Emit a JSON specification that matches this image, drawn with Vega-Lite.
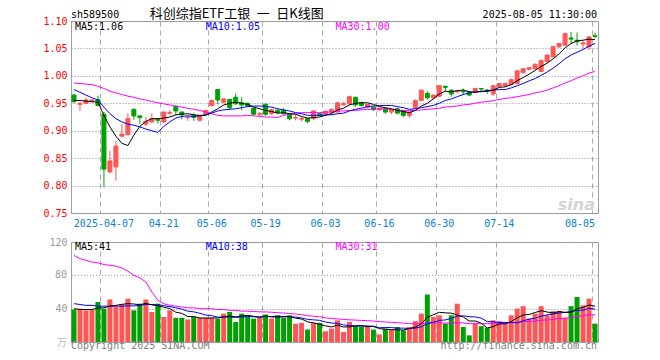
{
"$schema": "https://vega.github.io/schema/vega-lite/v6.json",
"background": "white",
"padding": {"left": 30, "top": 7, "right": 5, "bottom": 2},
"bounds": "flush",
"spacing": 29,
"config": {
  "view": {"stroke": "#a0a0a0", "strokeWidth": 1},
  "axis": {"labelFont": "DejaVu Sans Mono", "labelFontSize": 10, "ticks": false, "domain": false, "labelOverlap": false},
  "text": {"font": "DejaVu Sans Mono", "fontSize": 10}
},
"datasets": {"k": [
{"d":"2025-03-28","o":0.965,"h":0.967,"l":0.950,"c":0.953,"v":39,"m5":0.955,"m10":0.975,"m30":0.987,"v5":40,"v10":46,"v30":104},
{"d":"2025-03-31","o":0.948,"h":0.952,"l":0.936,"c":0.950,"v":40,"m5":0.955,"m10":0.970,"m30":0.986,"v5":39,"v10":45,"v30":100},
{"d":"2025-04-01","o":0.950,"h":0.960,"l":0.949,"c":0.956,"v":38,"m5":0.954,"m10":0.965,"m30":0.985,"v5":39,"v10":44,"v30":98},
{"d":"2025-04-02","o":0.954,"h":0.958,"l":0.951,"c":0.956,"v":39,"m5":0.953,"m10":0.960,"m30":0.984,"v5":39,"v10":44,"v30":96},
{"d":"2025-04-03","o":0.957,"h":0.964,"l":0.945,"c":0.946,"v":48,"m5":0.952,"m10":0.956,"m30":0.981,"v5":40.8,"v10":43,"v30":95},
{"d":"2025-04-07","o":0.930,"h":0.934,"l":0.797,"c":0.830,"v":40,"m5":0.928,"m10":0.943,"m30":0.977,"v5":41.0,"v10":43,"v30":93},
{"d":"2025-04-08","o":0.825,"h":0.863,"l":0.823,"c":0.845,"v":51,"m5":0.907,"m10":0.931,"m30":0.972,"v5":43.2,"v10":43,"v30":92},
{"d":"2025-04-09","o":0.834,"h":0.882,"l":0.809,"c":0.872,"v":42,"m5":0.890,"m10":0.922,"m30":0.969,"v5":44.0,"v10":43,"v30":91},
{"d":"2025-04-10","o":0.890,"h":0.912,"l":0.889,"c":0.894,"v":45,"m5":0.877,"m10":0.916,"m30":0.966,"v5":45.2,"v10":43,"v30":89},
{"d":"2025-04-11","o":0.893,"h":0.932,"l":0.891,"c":0.922,"v":52,"m5":0.873,"m10":0.912,"m30":0.963,"v5":46.0,"v10":43.4,"v30":85},
{"d":"2025-04-14","o":0.939,"h":0.940,"l":0.920,"c":0.927,"v":38,"m5":0.892,"m10":0.910,"m30":0.961,"v5":45.6,"v10":43.3,"v30":80},
{"d":"2025-04-15","o":0.927,"h":0.928,"l":0.913,"c":0.924,"v":46,"m5":0.908,"m10":0.907,"m30":0.958,"v5":44.6,"v10":43.9,"v30":77},
{"d":"2025-04-16","o":0.912,"h":0.925,"l":0.908,"c":0.917,"v":51,"m5":0.917,"m10":0.903,"m30":0.956,"v5":46.4,"v10":45.2,"v30":72},
{"d":"2025-04-17","o":0.916,"h":0.932,"l":0.914,"c":0.922,"v":36,"m5":0.922,"m10":0.900,"m30":0.953,"v5":44.6,"v10":44.9,"v30":60},
{"d":"2025-04-18","o":0.921,"h":0.922,"l":0.913,"c":0.919,"v":46,"m5":0.922,"m10":0.897,"m30":0.951,"v5":43.4,"v10":44.7,"v30":50},
{"d":"2025-04-21","o":0.916,"h":0.935,"l":0.914,"c":0.934,"v":30,"m5":0.923,"m10":0.908,"m30":0.949,"v5":41.8,"v10":43.7,"v30":46},
{"d":"2025-04-22","o":0.932,"h":0.938,"l":0.928,"c":0.933,"v":38,"m5":0.925,"m10":0.916,"m30":0.947,"v5":40.2,"v10":42.4,"v30":44},
{"d":"2025-04-23","o":0.944,"h":0.946,"l":0.929,"c":0.936,"v":29,"m5":0.929,"m10":0.923,"m30":0.945,"v5":35.8,"v10":41.1,"v30":43},
{"d":"2025-04-24","o":0.934,"h":0.935,"l":0.921,"c":0.929,"v":29,"m5":0.930,"m10":0.926,"m30":0.943,"v5":34.4,"v10":39.5,"v30":42},
{"d":"2025-04-25","o":0.924,"h":0.929,"l":0.918,"c":0.925,"v":27,"m5":0.931,"m10":0.927,"m30":0.941,"v5":30.6,"v10":37.0,"v30":41},
{"d":"2025-04-28","o":0.928,"h":0.932,"l":0.918,"c":0.924,"v":30,"m5":0.929,"m10":0.926,"m30":0.939,"v5":30.6,"v10":36.2,"v30":41},
{"d":"2025-04-29","o":0.919,"h":0.928,"l":0.917,"c":0.927,"v":29,"m5":0.928,"m10":0.927,"m30":0.937,"v5":28.8,"v10":34.5,"v30":40},
{"d":"2025-04-30","o":0.930,"h":0.938,"l":0.928,"c":0.937,"v":29,"m5":0.928,"m10":0.929,"m30":0.934,"v5":28.8,"v10":32.3,"v30":40},
{"d":"2025-05-06","o":0.946,"h":0.957,"l":0.944,"c":0.955,"v":29,"m5":0.934,"m10":0.932,"m30":0.931,"v5":28.8,"v10":31.6,"v30":40},
{"d":"2025-05-07","o":0.975,"h":0.976,"l":0.948,"c":0.956,"v":28,"m5":0.940,"m10":0.936,"m30":0.928,"v5":29.0,"v10":29.8,"v30":39},
{"d":"2025-05-08","o":0.952,"h":0.959,"l":0.950,"c":0.958,"v":34,"m5":0.947,"m10":0.938,"m30":0.927,"v5":29.8,"v10":30.2,"v30":39},
{"d":"2025-05-09","o":0.957,"h":0.958,"l":0.939,"c":0.942,"v":36,"m5":0.950,"m10":0.939,"m30":0.927,"v5":31.2,"v10":30.0,"v30":38},
{"d":"2025-05-12","o":0.961,"h":0.968,"l":0.947,"c":0.949,"v":24,"m5":0.952,"m10":0.940,"m30":0.927,"v5":30.2,"v10":29.5,"v30":38},
{"d":"2025-05-13","o":0.951,"h":0.961,"l":0.937,"c":0.947,"v":34,"m5":0.950,"m10":0.942,"m30":0.927,"v5":31.2,"v10":30.0,"v30":37},
{"d":"2025-05-14","o":0.950,"h":0.951,"l":0.943,"c":0.945,"v":32,"m5":0.948,"m10":0.944,"m30":0.928,"v5":32.0,"v10":30.5,"v30":37.0},
{"d":"2025-05-15","o":0.941,"h":0.942,"l":0.928,"c":0.930,"v":28,"m5":0.943,"m10":0.945,"m30":0.927,"v5":30.8,"v10":30.3,"v30":36.6},
{"d":"2025-05-16","o":0.930,"h":0.934,"l":0.926,"c":0.931,"v":29,"m5":0.940,"m10":0.945,"m30":0.926,"v5":29.4,"v10":30.3,"v30":36.2},
{"d":"2025-05-19","o":0.948,"h":0.950,"l":0.927,"c":0.930,"v":33,"m5":0.937,"m10":0.944,"m30":0.925,"v5":31.2,"v10":30.7,"v30":36.1},
{"d":"2025-05-20","o":0.931,"h":0.940,"l":0.929,"c":0.938,"v":28,"m5":0.935,"m10":0.943,"m30":0.925,"v5":30.0,"v10":30.6,"v30":35.7},
{"d":"2025-05-21","o":0.937,"h":0.940,"l":0.930,"c":0.933,"v":32,"m5":0.932,"m10":0.940,"m30":0.924,"v5":30.0,"v10":31.0,"v30":35.2},
{"d":"2025-05-22","o":0.937,"h":0.941,"l":0.929,"c":0.931,"v":29,"m5":0.933,"m10":0.938,"m30":0.928,"v5":30.2,"v10":30.5,"v30":34.8},
{"d":"2025-05-23","o":0.931,"h":0.932,"l":0.919,"c":0.922,"v":32,"m5":0.931,"m10":0.936,"m30":0.930,"v5":30.8,"v10":30.1,"v30":34.2},
{"d":"2025-05-26","o":0.923,"h":0.929,"l":0.919,"c":0.924,"v":22,"m5":0.930,"m10":0.933,"m30":0.932,"v5":28.6,"v10":29.9,"v30":33.5},
{"d":"2025-05-27","o":0.921,"h":0.926,"l":0.917,"c":0.922,"v":23,"m5":0.926,"m10":0.931,"m30":0.933,"v5":27.6,"v10":28.8,"v30":32.8},
{"d":"2025-05-28","o":0.922,"h":0.923,"l":0.914,"c":0.917,"v":15,"m5":0.923,"m10":0.928,"m30":0.933,"v5":24.2,"v10":27.1,"v30":31.5},
{"d":"2025-05-29","o":0.922,"h":0.937,"l":0.919,"c":0.936,"v":23,"m5":0.924,"m10":0.928,"m30":0.933,"v5":23.0,"v10":26.6,"v30":31.0},
{"d":"2025-05-30","o":0.931,"h":0.932,"l":0.926,"c":0.928,"v":23,"m5":0.925,"m10":0.928,"m30":0.933,"v5":21.2,"v10":26.0,"v30":30.3},
{"d":"2025-06-03","o":0.931,"h":0.937,"l":0.928,"c":0.935,"v":13,"m5":0.928,"m10":0.929,"m30":0.934,"v5":19.4,"v10":24.0,"v30":29.0},
{"d":"2025-06-04","o":0.933,"h":0.940,"l":0.931,"c":0.939,"v":16,"m5":0.931,"m10":0.929,"m30":0.934,"v5":18.0,"v10":22.8,"v30":28.3},
{"d":"2025-06-05","o":0.934,"h":0.952,"l":0.933,"c":0.951,"v":26,"m5":0.938,"m10":0.931,"m30":0.936,"v5":20.2,"v10":22.2,"v30":27.7},
{"d":"2025-06-06","o":0.947,"h":0.952,"l":0.946,"c":0.950,"v":12,"m5":0.941,"m10":0.932,"m30":0.936,"v5":18.0,"v10":20.5,"v30":27.1},
{"d":"2025-06-09","o":0.949,"h":0.964,"l":0.947,"c":0.962,"v":24,"m5":0.947,"m10":0.936,"m30":0.937,"v5":18.2,"v10":19.7,"v30":26.6},
{"d":"2025-06-10","o":0.961,"h":0.962,"l":0.944,"c":0.947,"v":19,"m5":0.950,"m10":0.939,"m30":0.937,"v5":19.4,"v10":19.4,"v30":26.3},
{"d":"2025-06-11","o":0.951,"h":0.953,"l":0.944,"c":0.946,"v":18,"m5":0.951,"m10":0.941,"m30":0.938,"v5":19.8,"v10":18.9,"v30":25.9},
{"d":"2025-06-12","o":0.943,"h":0.949,"l":0.941,"c":0.948,"v":19,"m5":0.951,"m10":0.944,"m30":0.939,"v5":18.4,"v10":19.3,"v30":25.6},
{"d":"2025-06-13","o":0.943,"h":0.944,"l":0.936,"c":0.939,"v":15,"m5":0.948,"m10":0.945,"m30":0.939,"v5":19.0,"v10":18.5,"v30":25.1},
{"d":"2025-06-16","o":0.938,"h":0.942,"l":0.936,"c":0.941,"v":9,"m5":0.944,"m10":0.946,"m30":0.940,"v5":16.0,"v10":17.1,"v30":24.5},
{"d":"2025-06-17","o":0.940,"h":0.941,"l":0.931,"c":0.934,"v":16,"m5":0.942,"m10":0.946,"m30":0.940,"v5":15.4,"v10":17.4,"v30":24.0},
{"d":"2025-06-18","o":0.934,"h":0.939,"l":0.930,"c":0.938,"v":15,"m5":0.940,"m10":0.946,"m30":0.939,"v5":14.8,"v10":17.3,"v30":23.6},
{"d":"2025-06-19","o":0.940,"h":0.942,"l":0.930,"c":0.932,"v":18,"m5":0.937,"m10":0.944,"m30":0.938,"v5":14.6,"v10":16.5,"v30":23.2},
{"d":"2025-06-20","o":0.936,"h":0.937,"l":0.925,"c":0.928,"v":14,"m5":0.935,"m10":0.942,"m30":0.937,"v5":14.4,"v10":16.7,"v30":22.6},
{"d":"2025-06-23","o":0.928,"h":0.935,"l":0.923,"c":0.934,"v":18,"m5":0.933,"m10":0.939,"m30":0.937,"v5":16.2,"v10":16.1,"v30":22.0},
{"d":"2025-06-24","o":0.942,"h":0.957,"l":0.940,"c":0.955,"v":25,"m5":0.937,"m10":0.940,"m30":0.937,"v5":18.0,"v10":16.7,"v30":22.0},
{"d":"2025-06-25","o":0.955,"h":0.975,"l":0.954,"c":0.974,"v":34,"m5":0.945,"m10":0.942,"m30":0.938,"v5":21.8,"v10":18.3,"v30":22.0},
{"d":"2025-06-26","o":0.968,"h":0.972,"l":0.957,"c":0.960,"v":57,"m5":0.950,"m10":0.944,"m30":0.939,"v5":29.6,"v10":22.1,"v30":22.8},
{"d":"2025-06-27","o":0.960,"h":0.966,"l":0.958,"c":0.965,"v":30,"m5":0.958,"m10":0.946,"m30":0.940,"v5":32.8,"v10":23.6,"v30":22.9},
{"d":"2025-06-30","o":0.963,"h":0.983,"l":0.961,"c":0.982,"v":32,"m5":0.967,"m10":0.950,"m30":0.941,"v5":35.6,"v10":25.9,"v30":23.0},
{"d":"2025-07-01","o":0.981,"h":0.982,"l":0.972,"c":0.979,"v":22,"m5":0.972,"m10":0.955,"m30":0.943,"v5":35.0,"v10":26.5,"v30":22.6},
{"d":"2025-07-02","o":0.974,"h":0.975,"l":0.962,"c":0.967,"v":32,"m5":0.971,"m10":0.958,"m30":0.944,"v5":34.6,"v10":28.2,"v30":22.8},
{"d":"2025-07-03","o":0.971,"h":0.974,"l":0.968,"c":0.972,"v":46,"m5":0.973,"m10":0.962,"m30":0.945,"v5":32.4,"v10":31.0,"v30":23.2},
{"d":"2025-07-04","o":0.972,"h":0.977,"l":0.965,"c":0.971,"v":18,"m5":0.974,"m10":0.966,"m30":0.947,"v5":30.0,"v10":31.4,"v30":22.9},
{"d":"2025-07-07","o":0.971,"h":0.972,"l":0.963,"c":0.965,"v":8,"m5":0.971,"m10":0.969,"m30":0.948,"v5":25.2,"v10":30.4,"v30":22.1},
{"d":"2025-07-08","o":0.971,"h":0.978,"l":0.969,"c":0.977,"v":22,"m5":0.970,"m10":0.971,"m30":0.950,"v5":25.2,"v10":30.1,"v30":22.1},
{"d":"2025-07-09","o":0.977,"h":0.978,"l":0.972,"c":0.976,"v":19,"m5":0.972,"m10":0.971,"m30":0.952,"v5":22.6,"v10":28.6,"v30":21.9},
{"d":"2025-07-10","o":0.974,"h":0.976,"l":0.967,"c":0.972,"v":17,"m5":0.972,"m10":0.973,"m30":0.953,"v5":16.8,"v10":24.6,"v30":22.0},
{"d":"2025-07-11","o":0.967,"h":0.983,"l":0.963,"c":0.982,"v":26,"m5":0.974,"m10":0.974,"m30":0.955,"v5":18.4,"v10":24.2,"v30":22.1},
{"d":"2025-07-14","o":0.981,"h":0.987,"l":0.979,"c":0.986,"v":25,"m5":0.979,"m10":0.975,"m30":0.957,"v5":21.8,"v10":23.5,"v30":22.2},
{"d":"2025-07-15","o":0.982,"h":0.988,"l":0.980,"c":0.986,"v":22,"m5":0.980,"m10":0.975,"m30":0.959,"v5":21.8,"v10":23.5,"v30":22.5},
{"d":"2025-07-16","o":0.984,"h":0.995,"l":0.982,"c":0.993,"v":32,"m5":0.984,"m10":0.978,"m30":0.960,"v5":24.4,"v10":23.5,"v30":23.0},
{"d":"2025-07-17","o":0.986,"h":1.011,"l":0.985,"c":1.009,"v":40,"m5":0.991,"m10":0.982,"m30":0.962,"v5":29.0,"v10":22.9,"v30":23.5},
{"d":"2025-07-18","o":1.006,"h":1.014,"l":1.004,"c":1.013,"v":43,"m5":0.997,"m10":0.986,"m30":0.964,"v5":32.4,"v10":25.4,"v30":24.5},
{"d":"2025-07-21","o":1.012,"h":1.016,"l":1.010,"c":1.015,"v":28,"m5":1.003,"m10":0.991,"m30":0.966,"v5":33.0,"v10":27.4,"v30":24.6},
{"d":"2025-07-22","o":1.013,"h":1.023,"l":1.011,"c":1.021,"v":34,"m5":1.010,"m10":0.995,"m30":0.969,"v5":35.4,"v10":28.6,"v30":25.1},
{"d":"2025-07-23","o":1.008,"h":1.030,"l":1.007,"c":1.028,"v":43,"m5":1.017,"m10":1.001,"m30":0.971,"v5":37.6,"v10":31.0,"v30":26.0},
{"d":"2025-07-24","o":1.026,"h":1.039,"l":1.024,"c":1.038,"v":32,"m5":1.023,"m10":1.007,"m30":0.974,"v5":36.0,"v10":32.5,"v30":26.4},
{"d":"2025-07-25","o":1.035,"h":1.055,"l":1.033,"c":1.053,"v":37,"m5":1.031,"m10":1.014,"m30":0.978,"v5":34.8,"v10":33.6,"v30":27.1},
{"d":"2025-07-28","o":1.053,"h":1.060,"l":1.051,"c":1.059,"v":37,"m5":1.040,"m10":1.022,"m30":0.982,"v5":36.6,"v10":34.8,"v30":28.1},
{"d":"2025-07-29","o":1.056,"h":1.079,"l":1.055,"c":1.077,"v":29,"m5":1.051,"m10":1.031,"m30":0.987,"v5":35.6,"v10":35.5,"v30":28.5},
{"d":"2025-07-30","o":1.069,"h":1.080,"l":1.058,"c":1.067,"v":43,"m5":1.059,"m10":1.038,"m30":0.991,"v5":35.6,"v10":36.6,"v30":29.4},
{"d":"2025-07-31","o":1.065,"h":1.079,"l":1.055,"c":1.062,"v":54,"m5":1.064,"m10":1.043,"m30":0.996,"v5":40.0,"v10":38.0,"v30":30.6},
{"d":"2025-08-01","o":1.058,"h":1.064,"l":1.050,"c":1.060,"v":44,"m5":1.065,"m10":1.048,"m30":1.000,"v5":41.4,"v10":38.1,"v30":31.6},
{"d":"2025-08-04","o":1.053,"h":1.072,"l":1.047,"c":1.071,"v":52,"m5":1.067,"m10":1.054,"m30":1.005,"v5":44.4,"v10":40.5,"v30":32.8},
{"d":"2025-08-05","o":1.073,"h":1.079,"l":1.069,"c":1.072,"v":22,"m5":1.066,"m10":1.059,"m30":1.008,"v5":43.0,"v10":39.3,"v30":32.7}
]},
"vconcat": [
{
  "width": 527, "height": 192,
  "data": {"name": "k"},
  "encoding": {
    "x": {"field": "d", "type": "ordinal", "title": null,
      "scale": {"type": "band", "paddingInner": 0, "paddingOuter": 0},
      "axis": {"orient": "bottom", "values": ["2025-04-07","2025-04-21","2025-05-06","2025-05-19","2025-06-03","2025-06-16","2025-06-30","2025-07-14","2025-08-05"],
        "bandPosition": 0, "grid": true, "gridDash": [5, 4], "gridColor": "#a8a8a8", "labelAngle": 0, "labelOverlap": false, "labelBound": false,
        "labelExpr": "datum.value == '2025-04-07' ? datum.value : substring(datum.value, 5)",
        "labelColor": "#0b80d0", "labelPadding": 5,
        "labelAlign": {"condition": {"test": "datum.value == '2025-08-05'", "value": "right"}, "value": "center"}}}
  },
  "layer": [
    {"mark": {"type": "rule", "strokeWidth": 1},
     "encoding": {
       "y": {"field": "l", "type": "quantitative", "title": null,
         "scale": {"domain": [0.75, 1.10], "nice": false, "zero": false},
         "axis": {"values": [0.75, 0.8, 0.85, 0.9, 0.95, 1.0, 1.05, 1.1], "tickCount": 20, "format": ".2f", "labelColor": "#ff0000", "labelOverlap": false, "labelBound": false, "grid": true, "gridDash": [1, 2], "gridColor": "#909090", "labelPadding": 4, "minExtent": 40, "maxExtent": 40}},
       "y2": {"field": "h"},
       "color": {"condition": {"test": "datum.c >= datum.o", "value": "#ff5555"}, "value": "#00a000"}}},
    {"mark": {"type": "bar", "size": 4, "strokeWidth": 1},
     "encoding": {
       "y": {"field": "o", "type": "quantitative", "title": null},
       "y2": {"field": "c"},
       "color": {"condition": {"test": "datum.c >= datum.o", "value": "#ff5555"}, "value": "#00a000"},
       "stroke": {"condition": {"test": "datum.c >= datum.o", "value": "#ff5555"}, "value": "#00a000"}}},
    {"mark": {"type": "line", "color": "#ff00ff", "strokeWidth": 1}, "encoding": {"y": {"field": "m30", "type": "quantitative", "title": null}}},
    {"mark": {"type": "line", "color": "#0000ff", "strokeWidth": 1}, "encoding": {"y": {"field": "m10", "type": "quantitative", "title": null}}},
    {"mark": {"type": "line", "color": "#000000", "strokeWidth": 1}, "encoding": {"y": {"field": "m5", "type": "quantitative", "title": null}}},
    {"data": {"values": [{}]}, "mark": {"type": "text", "text": "sina", "font": "DejaVu Sans", "fontSize": 16, "fontStyle": "italic", "fontWeight": "bold", "color": "#d4d4d4", "align": "right", "baseline": "alphabetic", "dx": 0, "dy": -3},
     "encoding": {"x": {"datum": "2025-08-05", "type": "ordinal"}, "y": {"datum": 0.75, "type": "quantitative"}}},
    {"data": {"values": [{}]}, "mark": {"type": "text", "text": "sh589500", "color": "#000000", "align": "left", "baseline": "alphabetic", "dx": -3, "dy": -3},
     "encoding": {"x": {"datum": "2025-03-28", "type": "ordinal"}, "y": {"datum": 1.10, "type": "quantitative"}}},
    {"data": {"values": [{}]}, "mark": {"type": "text", "text": "科创综指ETF工银\u2002一\u2002日K线图", "font": "Noto Sans CJK SC", "fontSize": 13, "color": "#000000", "align": "center", "baseline": "alphabetic", "dx": 1, "dy": -3},
     "encoding": {"x": {"datum": "2025-05-12", "type": "ordinal"}, "y": {"datum": 1.10, "type": "quantitative"}}},
    {"data": {"values": [{}]}, "mark": {"type": "text", "text": "2025-08-05 11:30:00", "color": "#000000", "align": "right", "baseline": "alphabetic", "dx": 2, "dy": -3},
     "encoding": {"x": {"datum": "2025-08-05", "type": "ordinal"}, "y": {"datum": 1.10, "type": "quantitative"}}},
    {"data": {"values": [{}]}, "mark": {"type": "text", "text": "MA5:1.06", "color": "#000000", "align": "left", "baseline": "alphabetic", "dx": 1, "dy": 9},
     "encoding": {"x": {"datum": "2025-03-28", "type": "ordinal"}, "y": {"datum": 1.10, "type": "quantitative"}}},
    {"data": {"values": [{}]}, "mark": {"type": "text", "text": "MA10:1.05", "color": "#0000ff", "align": "left", "baseline": "alphabetic", "dx": 0, "dy": 9},
     "encoding": {"x": {"datum": "2025-04-30", "type": "ordinal"}, "y": {"datum": 1.10, "type": "quantitative"}}},
    {"data": {"values": [{}]}, "mark": {"type": "text", "text": "MA30:1.00", "color": "#ff00ff", "align": "left", "baseline": "alphabetic", "dx": -2, "dy": 9},
     "encoding": {"x": {"datum": "2025-06-05", "type": "ordinal"}, "y": {"datum": 1.10, "type": "quantitative"}}}
  ]
},
{
  "width": 527, "height": 100,
  "data": {"name": "k"},
  "layer": [
    {"data": {"values": [{}]}, "mark": {"type": "rule", "color": "#909090", "strokeWidth": 1, "strokeDash": [1, 2]},
     "encoding": {"y": {"datum": 80, "type": "quantitative"}}},
    {"mark": {"type": "bar", "size": 5},
     "encoding": {
       "x": {"field": "d", "type": "ordinal", "title": null,
         "scale": {"type": "band", "paddingInner": 0, "paddingOuter": 0},
         "axis": {"orient": "bottom", "values": ["2025-04-07","2025-04-21","2025-05-06","2025-05-19","2025-06-03","2025-06-16","2025-06-30","2025-07-14","2025-08-05"],
           "bandPosition": 0, "grid": true, "gridDash": [5, 4], "gridColor": "#a8a8a8", "labels": false}},
       "y": {"field": "v", "type": "quantitative", "title": null,
         "scale": {"domain": [0, 120], "nice": false, "zero": true},
         "axis": {"values": [40, 120], "tickCount": 40, "labelOverlap": false, "labelBound": false, "grid": true, "gridDash": [1, 2], "gridColor": "#909090", "labelColor": "#999999", "labelPadding": 4, "minExtent": 40, "maxExtent": 40}},
       "color": {"condition": {"test": "datum.c >= datum.o", "value": "#ff5555"}, "value": "#00a000"}}},
    {"mark": {"type": "line", "color": "#ff00ff", "strokeWidth": 1}, "encoding": {"x": {"field": "d", "type": "ordinal"}, "y": {"field": "v30", "type": "quantitative", "title": null}}},
    {"mark": {"type": "line", "color": "#0000ff", "strokeWidth": 1}, "encoding": {"x": {"field": "d", "type": "ordinal"}, "y": {"field": "v10", "type": "quantitative", "title": null}}},
    {"mark": {"type": "line", "color": "#000000", "strokeWidth": 1}, "encoding": {"x": {"field": "d", "type": "ordinal"}, "y": {"field": "v5", "type": "quantitative", "title": null}}},
    {"data": {"values": [{}]}, "mark": {"type": "text", "text": "80", "color": "#999999", "align": "right", "baseline": "middle", "dx": -7},
     "encoding": {"x": {"datum": "2025-03-28", "type": "ordinal"}, "y": {"datum": 80, "type": "quantitative"}}},
    {"data": {"values": [{}]}, "mark": {"type": "text", "text": "万", "font": "Noto Sans CJK SC", "fontSize": 10, "color": "#c0c0c0", "align": "right", "baseline": "middle", "dx": -7, "dy": 1},
     "encoding": {"x": {"datum": "2025-03-28", "type": "ordinal"}, "y": {"datum": 0, "type": "quantitative"}}},
    {"data": {"values": [{}]}, "mark": {"type": "text", "text": "MA5:41", "color": "#000000", "align": "left", "baseline": "alphabetic", "dx": 1, "dy": 8},
     "encoding": {"x": {"datum": "2025-03-28", "type": "ordinal"}, "y": {"datum": 120, "type": "quantitative"}}},
    {"data": {"values": [{}]}, "mark": {"type": "text", "text": "MA10:38", "color": "#0000ff", "align": "left", "baseline": "alphabetic", "dx": 0, "dy": 8},
     "encoding": {"x": {"datum": "2025-04-30", "type": "ordinal"}, "y": {"datum": 120, "type": "quantitative"}}},
    {"data": {"values": [{}]}, "mark": {"type": "text", "text": "MA30:31", "color": "#ff00ff", "align": "left", "baseline": "alphabetic", "dx": -2, "dy": 8},
     "encoding": {"x": {"datum": "2025-06-05", "type": "ordinal"}, "y": {"datum": 120, "type": "quantitative"}}},
    {"data": {"values": [{}]}, "mark": {"type": "text", "text": "Copyright 2025 SINA.COM", "color": "#808080", "align": "left", "baseline": "alphabetic", "dx": -3, "dy": 7},
     "encoding": {"x": {"datum": "2025-03-28", "type": "ordinal"}, "y": {"datum": 0, "type": "quantitative"}}},
    {"data": {"values": [{}]}, "mark": {"type": "text", "text": "http://finance.sina.com.cn", "color": "#808080", "align": "right", "baseline": "alphabetic", "dx": 2, "dy": 7},
     "encoding": {"x": {"datum": "2025-08-05", "type": "ordinal"}, "y": {"datum": 0, "type": "quantitative"}}}
  ]
}
]
}
